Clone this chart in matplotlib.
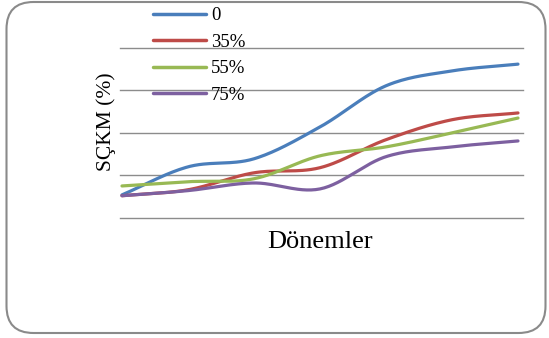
import numpy as np
import matplotlib
matplotlib.use("Agg")
import matplotlib.pyplot as plt
from matplotlib.patches import FancyBboxPatch

# Periods (no tick labels are shown on the category axis)
periods = [1, 2, 3, 4, 5, 6, 7]

series_labels = ["0", "35%", "55%", "75%"]
s_0 = [5.4, 12.0, 13.9, 21.4, 31.1, 34.6, 36.2]
s_35 = [5.2, 6.6, 10.6, 11.8, 18.4, 23.1, 24.7]
s_55 = [7.5, 8.5, 9.2, 14.6, 16.7, 20.0, 23.5]
s_75 = [5.2, 6.4, 8.2, 6.8, 14.4, 16.7, 18.1]

colors = ["#4A7EBB", "#BE4B48", "#98B954", "#7D60A0"]

y_grid = [0, 10, 20, 30, 40]


def smooth(x, y, n=30):
    """Catmull-Rom spline through the points (like a spreadsheet's smoothed line)."""
    x = np.asarray(x, float)
    y = np.asarray(y, float)
    px = np.concatenate([[2 * x[0] - x[1]], x, [2 * x[-1] - x[-2]]])
    py = np.concatenate([[2 * y[0] - y[1]], y, [2 * y[-1] - y[-2]]])
    xs, ys = [], []
    t = np.linspace(0, 1, n, endpoint=False)
    for i in range(1, len(px) - 2):
        for arr, out in ((px, xs), (py, ys)):
            p0, p1, p2, p3 = arr[i - 1], arr[i], arr[i + 1], arr[i + 2]
            out.append(0.5 * ((2 * p1) + (-p0 + p2) * t
                              + (2 * p0 - 5 * p1 + 4 * p2 - p3) * t ** 2
                              + (-p0 + 3 * p1 - 3 * p2 + p3) * t ** 3))
    xs.append([x[-1]])
    ys.append([y[-1]])
    return np.concatenate(xs), np.concatenate(ys)


plt.rcParams["font.family"] = ["Liberation Serif", "DejaVu Serif"]

fig = plt.figure(figsize=(5.49, 3.38), dpi=100)
ax = fig.add_axes([120 / 549, 1 - 218 / 338, 403 / 549, 170 / 338])

x_idx = np.arange(len(periods))
for vals, lab, col in zip([s_0, s_35, s_55, s_75], series_labels, colors):
    sx, sy = smooth(x_idx, vals)
    ax.plot(sx, sy, color=col, lw=2.3, label=lab, solid_capstyle="round")

ax.set_xlim(-0.03, len(periods) - 1 + 0.076)
ax.set_ylim(-0.05, 40)
ax.set_yticks(y_grid)
ax.set_xticks([])
ax.yaxis.grid(True, color="#8C8C8C", lw=1.0)
for gl in ax.yaxis.get_gridlines():
    gl.set_clip_on(False)
ax.tick_params(axis="y", length=0, labelleft=False)
for sp in ax.spines.values():
    sp.set_visible(False)
ax.set_axisbelow(True)

ax.set_ylabel("SÇKM (%)", fontsize=15.5, va="center")
ax.yaxis.set_label_coords(-0.035, 0.565)
ax.set_xlabel("Dönemler", fontsize=19, va="center")
ax.xaxis.set_label_coords(0.496, -0.141)

leg = fig.legend(loc="upper left", bbox_to_anchor=(153 / 549, 1 - 7 / 338),
                 frameon=False, fontsize=13.5, handlelength=2.8,
                 handletextpad=0.3, labelspacing=0.5, borderaxespad=0,
                 borderpad=0)
for h in leg.get_lines():
    h.set_linewidth(2.5)

# Rounded chart-area border
border = FancyBboxPatch((6.5, 5), 539, 331,
                        boxstyle="round,pad=0,rounding_size=27",
                        transform=None, facecolor="none",
                        edgecolor="#8A8A8A", lw=1.5)
fig.patches.append(border)

fig.savefig("out.png", dpi=100)
